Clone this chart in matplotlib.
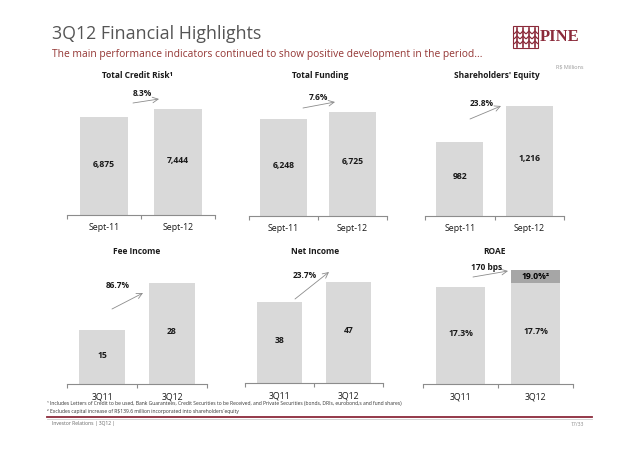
import matplotlib
matplotlib.use('Agg')
from matplotlib import pyplot as plt
from matplotlib.lines import Line2D
from matplotlib.patches import Rectangle

plt.rcParams['font.family'] = ['Open Sans', 'DejaVu Sans']

# data
year_labels = ['Sept-11', 'Sept-12']
quarter_labels = ['3Q11', '3Q12']
total_credit_risk = [6875, 7444]
total_funding = [6248, 6725]
shareholders_equity = [982, 1216]
fee_income = [15, 28]
net_income = [38, 47]
roae = [17.3, 17.7]
roae_adjusted = 19.0
growth = ['8.3%', '7.6%', '23.8%', '86.7%', '23.7%', '170 bps']
titles = ['Total Credit Risk¹', 'Total Funding', "Shareholders' Equity",
          'Fee Income', 'Net Income', 'ROAE']

W, H = 638, 451
BAR = '#d9d9d9'
DARK_BAR = '#a6a6a6'
AXIS = '#8c8c8c'
RED = '#8b2a3a'


def fx(x):
    return x / W


def fy(y):
    return 1 - y / H


fig = plt.figure(figsize=(W / 100, H / 100), dpi=100)

# header
fig.text(fx(52), fy(34), '3Q12 Financial Highlights', fontsize=12.8,
         color='#555555', va='center')
fig.text(fx(52), fy(55), 'The main performance indicators continued to show '
         'positive development in the period...', fontsize=7.35,
         color='#943634', va='center')
fig.text(fx(540), fy(37), 'PINE', fontsize=12, fontweight='bold',
         family='Liberation Serif', color=RED, va='center')
fig.text(fx(583), fy(67), 'R$ Millions', fontsize=4, color='#999999',
         ha='right', va='center')

# little logo
fig.patches.append(Rectangle((fx(513), fy(48)), 25 / W, 22 / H,
                             transform=fig.transFigure, fill=False,
                             edgecolor=RED, lw=0.8))
for tx in [517, 523, 529, 535]:
    fig.lines.append(Line2D([fx(tx), fx(tx)], [fy(28), fy(47)],
                            transform=fig.transFigure, color=RED, lw=1.2))
    for ty in [31, 36, 41]:
        fig.lines.append(Line2D([fx(tx - 2.5), fx(tx), fx(tx + 2.5)],
                                [fy(ty + 2.5), fy(ty), fy(ty + 2.5)],
                                transform=fig.transFigure, color=RED, lw=0.9))

# panels: (values, labels, left, right, axis_y, y0, px_per_unit, bar width)
panels = [
    (total_credit_risk, year_labels, 67, 215, 215, 0, 0.0142, 0.65),
    (total_funding, year_labels, 249, 387, 216, 0, 0.0155, 0.67),
    (shareholders_equity, year_labels, 425, 564, 216, 500, 0.1537, 0.67),
    (fee_income, quarter_labels, 67, 207, 384, 0, 3.6, 0.65),
    (net_income, quarter_labels, 245, 383, 383, 0, 2.14, 0.66),
    (roae, quarter_labels, 423, 573, 384, 7.7, 10.1, 0.65),
]
title_pos = [(137, 75), (320, 75), (497, 75), (137, 252), (315, 251), (495, 252)]
arrow_pos = [((133, 103), (159, 99)), ((303, 108), (335, 102)),
             ((470, 119), (501, 106)), ((112, 309), (143, 293)),
             ((295, 299), (329, 272)), ((473, 277), (508, 271))]
growth_pos = [(142, 93), (318, 97), (482, 103), (118, 286), (305, 276), (487, 267)]

AH = 150
for i, (vals, labels, left, right, base, y0, scale, bw) in enumerate(panels):
    ax = fig.add_axes([fx(left), fy(base), (right - left) / W, AH / H])
    ax.bar([0, 1], vals, width=bw, color=BAR)
    if i == 5:
        ax.bar(1, roae_adjusted - vals[1], bottom=vals[1], width=bw, color=DARK_BAR)
        ax.text(1, (vals[1] + roae_adjusted) / 2, f'{roae_adjusted:.1f}%²',
                ha='center', va='center', fontsize=6.2, fontweight='bold')
    for x, v in zip([0, 1], vals):
        txt = f'{v:.1f}%' if i == 5 else f'{v:,}'
        ax.text(x, (y0 + v) / 2 + 2 / scale, txt, ha='center', va='center',
                fontsize=6.2, fontweight='bold', color='#1a1a1a')
    ax.set_xlim(-0.5, 1.5)
    ax.set_ylim(y0, y0 + AH / scale)
    for s in ['top', 'left', 'right']:
        ax.spines[s].set_visible(False)
    ax.spines['bottom'].set_color(AXIS)
    ax.spines['bottom'].set_linewidth(0.8)
    ax.set_yticks([])
    ax.set_xticks([-0.5, 0.5, 1.5])
    ax.set_xticklabels([])
    ax.tick_params(axis='x', which='major', length=3, color=AXIS, width=0.8)
    ax.set_xticks([0, 1], minor=True)
    ax.set_xticklabels(labels, minor=True, fontsize=6.3, color='#1a1a1a')
    ax.tick_params(axis='x', which='minor', length=0, pad=6)
    ax.patch.set_alpha(0)

    tx, ty = title_pos[i]
    fig.text(fx(tx), fy(ty), titles[i], ha='center', va='center',
             fontsize=6, fontweight='bold', color='#1a1a1a')
    (x1, y1), (x2, y2) = arrow_pos[i]
    fig.add_artist(plt.Annotation('', xy=(fx(x2), fy(y2)), xytext=(fx(x1), fy(y1)),
                                  xycoords='figure fraction',
                                  arrowprops=dict(arrowstyle='->', color=AXIS,
                                                  lw=0.6, shrinkA=0, shrinkB=0)))
    gx, gy = growth_pos[i]
    fig.text(fx(gx), fy(gy), growth[i], ha='center', va='center',
             fontsize=6, fontweight='bold', color='#1a1a1a')

# footnotes and footer
fig.text(fx(47), fy(404), '¹ Includes Letters of Credit to be used, Bank Guarantees, '
         'Credit Securities to be Received, and Private Securities (bonds, DRIs, '
         'eurobond,s and fund shares)', fontsize=3.65, color='#333333', va='center')
fig.text(fx(47), fy(411), '² Excludes capital increase of R$139.6 million '
         'incorporated into shareholders´equity', fontsize=3.65,
         color='#333333', va='center')
fig.lines.append(Line2D([fx(47), fx(592)], [fy(417), fy(417)],
                        transform=fig.transFigure, color=RED, lw=1.3))
fig.lines.append(Line2D([fx(47), fx(592)], [fy(418.5), fy(418.5)],
                        transform=fig.transFigure, color='#cccccc', lw=0.6))
fig.text(fx(52), fy(424), 'Investor Relations | 3Q12 |', fontsize=3.6,
         color='#666666', va='center')
fig.text(fx(584), fy(424), '17/33', fontsize=3.6, color='#888888',
         ha='right', va='center')

fig.savefig('out.png', dpi=100)
